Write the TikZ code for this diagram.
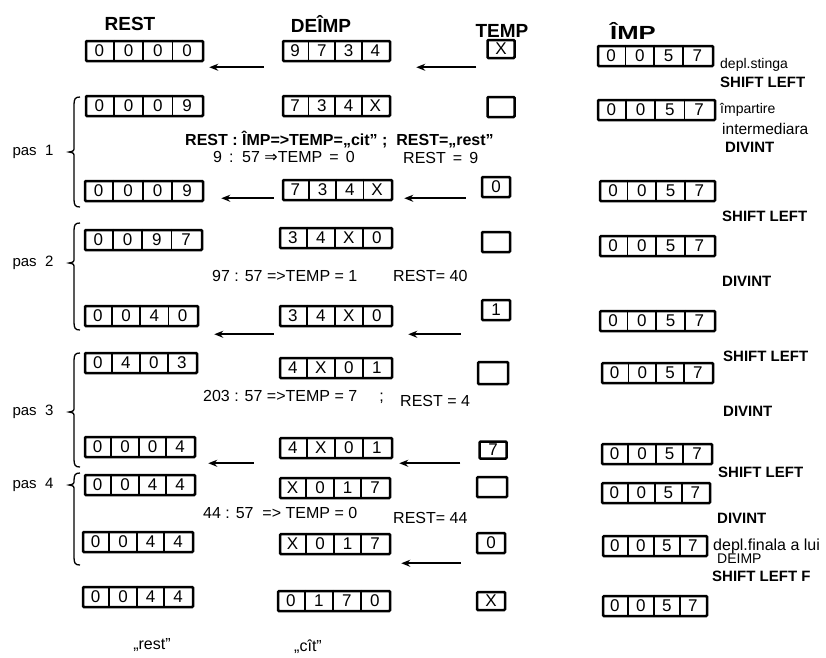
\documentclass[tikz,border=0pt]{standalone}
\usepackage{fontspec}
\setmainfont{Liberation Sans}
\newfontfamily\djv{DejaVu Sans}
\usetikzlibrary{calc,arrows.meta}
\tikzset{
 regbox/.style={draw, line width=2.5pt, minimum height=20pt, inner sep=0pt, rounded corners=1pt},
 tempbox/.style={draw, line width=2.5pt, inner sep=0pt, rounded corners=1pt, font=\fontsize{17}{17}\selectfont},
 digit/.style={font=\fontsize{17}{17}\selectfont, inner sep=0pt},
 divl/.style={line width=1.7pt},
 arr/.style={line width=2.4pt, -{Stealth[length=9pt,width=7pt]}},
 hdr/.style={font=\bfseries\fontsize{19}{19}\selectfont, inner sep=0pt},
 lbl/.style={font=\fontsize{14}{14}\selectfont, anchor=west, inner sep=0pt},
 blbl/.style={font=\bfseries\fontsize{15}{15}\selectfont, anchor=west, inner sep=0pt},
 calctext/.style={font=\fontsize{16}{16}\selectfont, anchor=west, inner sep=0pt},
 paslbl/.style={font=\fontsize{15}{15}\selectfont, inner sep=0pt},
 brc/.style={line width=1.3pt},
}
\newcommand{\regx}[8]{%
  \node[regbox, minimum width=#4pt] (#1) at (#2,#3) {};
  \pgfmathsetmacro{\regcw}{#4/4}
  \foreach \k in {1,2,3} \draw[divl] ($(#1.north west)+(\k*\regcw,0)$) -- ($(#1.south west)+(\k*\regcw,0)$);
  \foreach \k/\dd in {1/#5,2/#6,3/#7,4/#8} \node[digit] (#1d\k) at ($(#1.west)+(\k*\regcw-\regcw/2,0)$) {\dd};
}
\newcommand{\bracex}[4]{%
  \draw[brc] (#1+6,#2) .. controls (#1+1,#2) and (#1,#2+2) .. (#1,#2+8) -- (#1,#3-5) .. controls (#1,#3-1) .. (#1-5,#3) .. controls (#1,#3+1) .. (#1,#3+5) -- (#1,#4-8) .. controls (#1,#4-2) and (#1+1,#4) .. (#1+6,#4);
}
\begin{document}
\begin{tikzpicture}[x=1pt,y=-1pt]
\useasboundingbox (0,0) rectangle (826,657);

% headers
\node[hdr] (hrest) at (130,24) {REST};
\node[hdr] (hdeimp) at (321,24) {DEÎMP};
\node[hdr] (htemp) at (502,31) {TEMP};
\node[hdr] (himp) at (633,31) {\scalebox{1.35}[1]{ÎMP}};

% row 0
\regx{r0}{144.5}{51}{117}{0}{0}{0}{0}
\regx{d0}{336.5}{51}{107}{9}{7}{3}{4}
\node[tempbox, minimum width=27pt, minimum height=18pt] (t0) at (501,49) {X};
\regx{i0}{655.5}{56}{115}{0}{0}{5}{7}
\coordinate (a0) at ([yshift=-5pt]d0.south);
\draw[arr, shorten <=18pt, shorten >=5pt] (d0.west |- a0) -- (r0.east |- a0);
\draw[arr, shorten <=10pt, shorten >=25pt] (t0.west |- a0) -- (d0.east |- a0);
\node[lbl] (l0a) at (720,65) {depl.stinga};
\node[blbl] (l0b) at (720,82) {SHIFT LEFT};

% row 1
\regx{r1}{144.5}{106}{117}{0}{0}{0}{9}
\regx{d1}{336.5}{106}{107}{7}{3}{4}{X}
\node[tempbox, minimum width=27pt, minimum height=20pt] (t1) at (501,107) {};
\regx{i1}{656.5}{110}{117}{0}{0}{5}{7}
\node[lbl] (l1a) at (720,110) {împartire};
\node[lbl, font=\fontsize{15.5}{15.5}\selectfont] (l1b) at (722,129) {intermediara};
\node[blbl] (l1c) at (725,147) {DIVINT};
\node[calctext, font=\bfseries\fontsize{16}{16}\selectfont] (c1) at (185,140) {REST : ÎMP=>TEMP=„cit” ;\ \ REST=„rest”};
\node[calctext] (c1b) at (213,157) {9 \,:\, 57 {\djv ⇒}TEMP \,=\, 0};
\node[calctext] (c1c) at (403,158) {REST \,=\, 9};

% row 2
\regx{r2}{144}{191}{118}{0}{0}{0}{9}
\regx{d2}{337.5}{190}{109}{7}{3}{4}{X}
\node[tempbox, minimum width=28pt, minimum height=20pt] (t2) at (496,187) {0};
\regx{i2}{657.5}{191}{115}{0}{0}{5}{7}
\coordinate (a2) at ([yshift=3pt]d2.south);
\draw[arr, shorten <=8pt, shorten >=17pt] (d2.west |- a2) -- (r2.east |- a2);
\draw[arr, shorten <=15pt, shorten >=11pt] (t2.west |- a2) -- (d2.east |- a2);
\node[blbl] (l2) at (722,216) {SHIFT LEFT};

% row 3
\regx{r3}{143.5}{240}{117}{0}{0}{9}{7}
\regx{d3}{336}{238}{112}{3}{4}{X}{0}
\node[tempbox, minimum width=28pt, minimum height=20pt] (t3) at (496,242) {};
\regx{i3}{657.5}{246}{115}{0}{0}{5}{7}
\node[calctext] (c3) at (212,276) {97 : 57 =>TEMP = 1};
\node[calctext] (c3b) at (393,276) {REST= 40};
\node[blbl] (l3) at (722,281) {DIVINT};

% row 4
\regx{r4}{141.5}{316}{113}{0}{0}{4}{0}
\regx{d4}{336}{316}{112}{3}{4}{X}{0}
\node[tempbox, minimum width=28pt, minimum height=20pt] (t4) at (496,310) {1};
\regx{i4}{657.5}{321}{115}{0}{0}{5}{7}
\coordinate (a4) at ([yshift=-7pt]d4.south);
\draw[arr, shorten <=5pt, shorten >=15pt] (d4.west |- a4) -- (r4.east |- a4);
\draw[arr, shorten <=20pt, shorten >=15pt] (t4.west |- a4) -- (d4.east |- a4);
\node[blbl] (l4) at (723,356) {SHIFT LEFT};

% row 5
\regx{r5}{141}{363}{112}{0}{4}{0}{3}
\regx{d5}{336}{368}{112}{4}{X}{0}{1}
\node[tempbox, minimum width=30pt, minimum height=22pt] (t5) at (493,373) {};
\regx{i5}{657.5}{373}{111}{0}{0}{5}{7}
\node[calctext] (c5) at (203,397) {203 : 57 =>TEMP = 7\ \ \ \ \ ;};
\node[calctext] (c5b) at (400,401) {REST = 4};
\node[blbl] (l5) at (723,411) {DIVINT};

% row 6
\regx{r6}{140}{447}{110}{0}{0}{0}{4}
\regx{d6}{336}{448}{112}{4}{X}{0}{1}
\node[tempbox, minimum width=27pt, minimum height=17pt] (t6) at (493,450) {7};
\regx{i6}{657}{454}{110}{0}{0}{5}{7}
\coordinate (a6) at ([yshift=-4pt]d6.south);
\draw[arr, shorten <=25pt, shorten >=12pt] (d6.west |- a6) -- (r6.east |- a6);
\draw[arr, shorten <=18pt, shorten >=6pt] (t6.west |- a6) -- (d6.east |- a6);
\node[blbl] (l6) at (718,472) {SHIFT LEFT};

% row 7
\regx{r7}{140}{485}{110}{0}{0}{4}{4}
\regx{d7}{335}{488}{110}{X}{0}{1}{7}
\node[tempbox, minimum width=30pt, minimum height=20pt] (t7) at (492,487) {};
\regx{i7}{656}{493}{108}{0}{0}{5}{7}
\node[calctext] (c7) at (203,513) {44 : 57 \ =>\ TEMP = 0};
\node[calctext] (c7b) at (393,518) {REST= 44};
\node[blbl] (l7) at (717,518) {DIVINT};

% row 8
\regx{r8}{138}{542}{110}{0}{0}{4}{4}
\regx{d8}{335}{544}{110}{X}{0}{1}{7}
\node[tempbox, minimum width=28pt, minimum height=20pt] (t8) at (491,543) {0};
\regx{i8}{655}{546}{104}{0}{0}{5}{7}
\coordinate (a8) at ([yshift=-8pt]d8.south);
\draw[arr, shorten <=15pt, shorten >=10pt] (t8.west |- a8) -- (d8.east |- a8);
\node[lbl, anchor=base west, font=\fontsize{16}{16}\selectfont] (l8a) at (713,550) {depl.finala a lui};
\node[lbl, anchor=base west, font=\fontsize{14}{14}\selectfont] (l8b) at (717,563) {DEIMP};
\node[blbl, anchor=base west] (l8c) at (712,581) {SHIFT LEFT F};

% row 9
\regx{r9}{138}{597}{110}{0}{0}{4}{4}
\regx{d9}{334}{601}{112}{0}{1}{7}{0}
\node[tempbox, minimum width=28pt, minimum height=18pt] (t9) at (491,601) {X};
\regx{i9}{655}{606}{104}{0}{0}{5}{7}

% bottom
\node[lbl, anchor=center, font=\fontsize{16}{16}\selectfont] (qrest) at (152,645) {„rest”};
\node[lbl, anchor=center, font=\fontsize{16}{16}\selectfont] (qcat) at (308,647) {„cît”};

% pas labels and braces
\node[paslbl] (p1) at (33,152) {pas\ \ 1};
\node[paslbl] (p2) at (33,263) {pas\ \ 2};
\node[paslbl] (p3) at (33,412) {pas\ \ 3};
\node[paslbl] (p4) at (33,485) {pas\ \ 4};
\bracex{74}{97}{152}{207}
\bracex{74}{223}{263}{330}
\bracex{74}{353}{412}{467}
\bracex{74}{473}{485}{565}
\end{tikzpicture}
\end{document}
